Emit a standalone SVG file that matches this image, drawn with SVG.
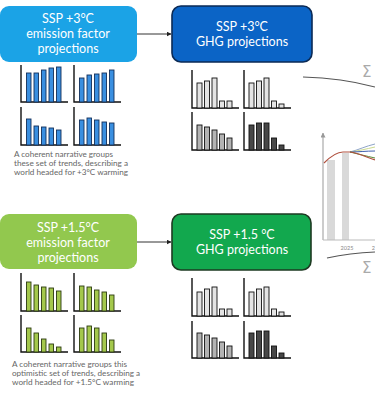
<svg xmlns="http://www.w3.org/2000/svg" width="375" height="395" viewBox="0 0 375 395">
<defs>
<style>
.bt{font-family:Lato,"Open Sans",sans-serif;font-size:12.5px;fill:#fff;text-anchor:middle}
.cap{font-family:Lato,"Open Sans",sans-serif;font-size:7.4px;fill:#666}
.ax{stroke:#111;stroke-width:1.4;fill:none}
.bb{fill:#3a8fe0;stroke:#13305a;stroke-width:0.9}
.gb{fill:#a4c84c;stroke:#2c3a10;stroke-width:0.9}
.l1{fill:#e4e4e4;stroke:#111;stroke-width:0.9}
.l2{fill:#b3b3b3;stroke:#111;stroke-width:0.9}
.l3{fill:#474747;stroke:#111;stroke-width:0.9}
.con{stroke:#333;stroke-width:1;fill:none}
.sig{font-family:"DejaVu Sans",sans-serif;font-size:15px;fill:#aaa}
</style>
<marker id="ah" viewBox="0 0 10 10" refX="9" refY="5" markerWidth="5" markerHeight="5" orient="auto"><path d="M0,0L10,5L0,10z" fill="#222"/></marker>
<marker id="ag" viewBox="0 0 10 10" refX="9" refY="5" markerWidth="5" markerHeight="5" orient="auto"><path d="M0,0L10,5L0,10z" fill="#999"/></marker>
</defs>

<g id="connectors">
<line class="con" x1="137" y1="34" x2="171" y2="34" marker-end="url(#ah)"/>
<line class="con" x1="137" y1="242" x2="171" y2="242" marker-end="url(#ah)"/>
<path d="M303,77 Q342,78 375,87" fill="none" stroke="#555" stroke-width="1.1"/>
<path d="M327,258 Q350,253 375,252" fill="none" stroke="#555" stroke-width="1.1"/>
</g>

<g id="ef3">
<rect x="0" y="6" width="137" height="56" rx="9" fill="#1ba3e6"/>
<text class="bt" x="68" y="23">SSP +3°C</text>
<text class="bt" x="68" y="38">emission factor</text>
<text class="bt" x="68" y="53">projections</text>
</g>

<g id="ghg3">
<rect x="172" y="6" width="140" height="56" rx="9" fill="#0b64c6" stroke="#0b2a55" stroke-width="1.6"/>
<text class="bt" x="242" y="31">SSP +3°C</text>
<text class="bt" x="242" y="46">GHG projections</text>
</g>

<g id="ef3charts">
<path class="ax" d="M21,65V102H68"/>
<rect class="bb" x="26.5" y="73" width="4.5" height="29"/><rect class="bb" x="34" y="73" width="4.5" height="29"/><rect class="bb" x="41.5" y="70" width="4.5" height="32"/><rect class="bb" x="49" y="68" width="4.5" height="34"/><rect class="bb" x="56.5" y="67" width="4.5" height="35"/>
<path class="ax" d="M74,65V102H121"/>
<rect class="bb" x="79.5" y="78" width="4.5" height="24"/><rect class="bb" x="87" y="75" width="4.5" height="27"/><rect class="bb" x="94.5" y="74" width="4.5" height="28"/><rect class="bb" x="102" y="73" width="4.5" height="29"/><rect class="bb" x="109.5" y="70" width="4.5" height="32"/>
<path class="ax" d="M21,107V145H68"/>
<rect class="bb" x="26.5" y="119" width="4.5" height="26"/><rect class="bb" x="34" y="126" width="4.5" height="19"/><rect class="bb" x="41.5" y="127" width="4.5" height="18"/><rect class="bb" x="49" y="128" width="4.5" height="17"/><rect class="bb" x="56.5" y="130" width="4.5" height="15"/>
<path class="ax" d="M74,107V145H121"/>
<rect class="bb" x="79.5" y="120" width="4.5" height="25"/><rect class="bb" x="87" y="118" width="4.5" height="27"/><rect class="bb" x="94.5" y="120" width="4.5" height="25"/><rect class="bb" x="102" y="122" width="4.5" height="23"/><rect class="bb" x="109.5" y="123" width="4.5" height="22"/>
</g>

<g id="caption3">
<text class="cap" x="14" y="157" textLength="99" lengthAdjust="spacingAndGlyphs">A coherent narrative groups</text>
<text class="cap" x="14" y="166" textLength="114" lengthAdjust="spacingAndGlyphs">these set of trends, describing a</text>
<text class="cap" x="14" y="175" textLength="114" lengthAdjust="spacingAndGlyphs">world headed for +3°C warming</text>
</g>

<g id="ghg3charts">
<path class="ax" d="M192,70V108H239"/>
<rect class="l1" x="197" y="83" width="5" height="25"/><rect class="l1" x="204.5" y="81" width="5" height="27"/><rect class="l1" x="212" y="78" width="5" height="30"/><rect class="l1" x="219.5" y="101" width="5" height="7"/><rect class="l1" x="227" y="101" width="5" height="7"/>
<path class="ax" d="M244,70V108H291"/>
<rect class="l1" x="249" y="83" width="5" height="25"/><rect class="l1" x="256.5" y="81" width="5" height="27"/><rect class="l1" x="264" y="78" width="5" height="30"/><rect class="l1" x="271.5" y="101" width="5" height="7"/><rect class="l1" x="279" y="104" width="5" height="4"/>
<path class="ax" d="M192,112V150H239"/>
<rect class="l2" x="197" y="125" width="5" height="25"/><rect class="l2" x="204.5" y="127" width="5" height="23"/><rect class="l2" x="212" y="130" width="5" height="20"/><rect class="l2" x="219.5" y="134" width="5" height="16"/><rect class="l2" x="227" y="138" width="5" height="12"/>
<path class="ax" d="M244,112V150H291"/>
<rect class="l3" x="249" y="125" width="5" height="25"/><rect class="l3" x="256.5" y="123" width="5" height="27"/><rect class="l3" x="264" y="123" width="5" height="27"/><rect class="l3" x="271.5" y="138" width="5" height="12"/><rect class="l3" x="279" y="145" width="5" height="5"/>
</g>

<g id="ef15">
<rect x="0" y="214" width="137" height="55" rx="9" fill="#92c84e"/>
<text class="bt" x="68" y="232">SSP +1.5°C</text>
<text class="bt" x="68" y="247">emission factor</text>
<text class="bt" x="68" y="262">projections</text>
</g>

<g id="ghg15">
<rect x="172" y="214" width="139" height="56" rx="9" fill="#12a84e" stroke="#1d3a22" stroke-width="1.6"/>
<text class="bt" x="242" y="239">SSP +1.5 °C</text>
<text class="bt" x="242" y="254">GHG projections</text>
</g>

<g id="ef15charts">
<path class="ax" d="M21,273V311H68"/>
<rect class="gb" x="26.5" y="282" width="4.5" height="29"/><rect class="gb" x="34" y="285" width="4.5" height="26"/><rect class="gb" x="41.5" y="287" width="4.5" height="24"/><rect class="gb" x="49" y="288" width="4.5" height="23"/><rect class="gb" x="56.5" y="291" width="4.5" height="20"/>
<path class="ax" d="M74,273V311H121"/>
<rect class="gb" x="79.5" y="286" width="4.5" height="25"/><rect class="gb" x="87" y="287" width="4.5" height="24"/><rect class="gb" x="94.5" y="290" width="4.5" height="21"/><rect class="gb" x="102" y="292" width="4.5" height="19"/><rect class="gb" x="109.5" y="295" width="4.5" height="16"/>
<path class="ax" d="M21,315V352H68"/>
<rect class="gb" x="26.5" y="328" width="4.5" height="24"/><rect class="gb" x="34" y="333" width="4.5" height="19"/><rect class="gb" x="41.5" y="339" width="4.5" height="13"/><rect class="gb" x="49" y="344" width="4.5" height="8"/><rect class="gb" x="56.5" y="347" width="4.5" height="5"/>
<path class="ax" d="M74,315V352H121"/>
<rect class="gb" x="79.5" y="328" width="4.5" height="24"/><rect class="gb" x="87" y="326" width="4.5" height="26"/><rect class="gb" x="94.5" y="328" width="4.5" height="24"/><rect class="gb" x="102" y="333" width="4.5" height="19"/><rect class="gb" x="109.5" y="340" width="4.5" height="12"/>
</g>

<g id="caption15">
<text class="cap" x="12" y="367" textLength="115" lengthAdjust="spacingAndGlyphs">A coherent narrative groups this</text>
<text class="cap" x="12" y="376" textLength="128" lengthAdjust="spacingAndGlyphs">optimistic set of trends, describing a</text>
<text class="cap" x="12" y="385" textLength="122" lengthAdjust="spacingAndGlyphs">world headed for +1.5°C warming</text>
</g>

<g id="ghg15charts">
<path class="ax" d="M192,278V316H239"/>
<rect class="l1" x="197" y="292" width="5" height="24"/><rect class="l1" x="204.5" y="289" width="5" height="27"/><rect class="l1" x="212" y="287" width="5" height="29"/><rect class="l1" x="219.5" y="309" width="5" height="7"/><rect class="l1" x="227" y="309" width="5" height="7"/>
<path class="ax" d="M244,278V316H291"/>
<rect class="l1" x="249" y="292" width="5" height="24"/><rect class="l1" x="256.5" y="289" width="5" height="27"/><rect class="l1" x="264" y="287" width="5" height="29"/><rect class="l1" x="271.5" y="309" width="5" height="7"/><rect class="l1" x="279" y="312" width="5" height="4"/>
<path class="ax" d="M192,321V358H239"/>
<rect class="l2" x="197" y="333" width="5" height="25"/><rect class="l2" x="204.5" y="335" width="5" height="23"/><rect class="l2" x="212" y="338" width="5" height="20"/><rect class="l2" x="219.5" y="342" width="5" height="16"/><rect class="l2" x="227" y="346" width="5" height="12"/>
<path class="ax" d="M244,321V358H291"/>
<rect class="l3" x="249" y="333" width="5" height="25"/><rect class="l3" x="256.5" y="331" width="5" height="27"/><rect class="l3" x="264" y="331" width="5" height="27"/><rect class="l3" x="271.5" y="346" width="5" height="12"/><rect class="l3" x="279" y="353" width="5" height="5"/>
</g>

<g id="sum-chart">
<rect x="327" y="160" width="8" height="80" fill="#d9d9d9"/>
<rect x="342" y="153" width="7" height="87" fill="#d9d9d9"/>
<line x1="323" y1="240" x2="323" y2="133" stroke="#999" stroke-width="1" marker-end="url(#ag)"/>
<line x1="323" y1="240" x2="375" y2="240" stroke="#bbb" stroke-width="1"/>
<path d="M350,152 C358,150 366,146 375,144" fill="none" stroke="#8ea4c8" stroke-width="1"/>
<path d="M350,152 C358,151 366,149 375,147" fill="none" stroke="#cbd98e" stroke-width="1"/>
<path d="M350,152 C358,152 366,151 375,151" fill="none" stroke="#3f5fae" stroke-width="1"/>
<path d="M350,152 C358,154 366,156 375,158" fill="none" stroke="#5d8a3a" stroke-width="1"/>
<path d="M324,163 C330,157 336,152 343,152 L350,152 C358,153 366,157 375,160" fill="none" stroke="#b0503e" stroke-width="1.2"/>
<text x="347" y="250" font-family="Lato,sans-serif" font-size="5.5" fill="#888" text-anchor="middle">2025</text>
<text x="375" y="250" font-family="Lato,sans-serif" font-size="5.5" fill="#888" text-anchor="end">2</text>
<text class="sig" x="362" y="77">Σ</text>
<text class="sig" x="362" y="273">Σ</text>
</g>
</svg>
